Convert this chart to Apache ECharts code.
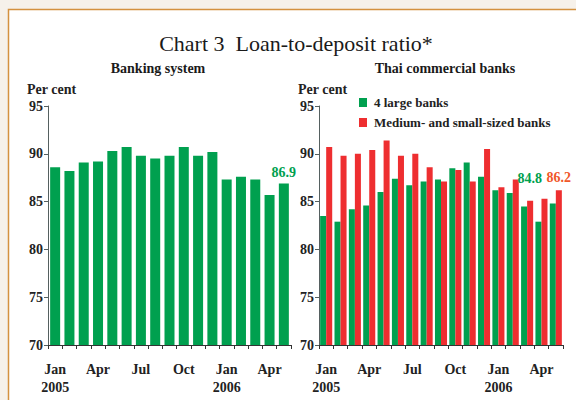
<!DOCTYPE html>
<html>
<head>
<meta charset="utf-8">
<script src="https://cdn.jsdelivr.net/npm/echarts@6/dist/echarts.min.js"></script>
<style>
html,body{margin:0;padding:0;background:#f6f1ea;}
#c{width:576px;height:400px;}
</style>
</head>
<body>
<div id="c"></div>
<script>
var months = ["Jan\n2005","Feb","Mar","Apr","May","Jun","Jul","Aug","Sep","Oct","Nov","Dec","Jan\n2006","Feb","Mar","Apr","May"];
var bankingSystem = [88.6, 88.2, 89.1, 89.2, 90.3, 90.7, 89.8, 89.5, 89.8, 90.7, 89.8, 90.2, 87.3, 87.6, 87.3, 85.7, 86.9];
var largeBanks = [83.5, 82.9, 84.2, 84.6, 86.0, 87.4, 86.7, 87.1, 87.3, 88.5, 89.1, 87.6, 86.2, 85.9, 84.5, 82.9, 84.8];
var mediumSmallBanks = [90.7, 89.8, 90.0, 90.4, 91.4, 89.8, 90.0, 88.6, 87.1, 88.3, 87.1, 90.5, 86.5, 87.3, 85.1, 85.3, 86.2];
var yTicks = {min: 70, max: 95, interval: 5};

var GREEN = '#00a04f', RED = '#ee2e30', LABEL_RED = '#f0572a';
var FONT = '"Liberation Serif", "Times New Roman", serif';

function lastLabelData(arr, labelOpt) {
  return arr.map(function (v, i) {
    if (i === arr.length - 1) return {value: v, label: labelOpt};
    return v;
  });
}

function xAxis(gi) {
  return {
    type: 'category', gridIndex: gi, data: months,
    boundaryGap: true,
    axisLine: {lineStyle: {color: '#333', width: 1}},
    axisTick: {show: true, interval: 0, length: 4, lineStyle: {color: '#333'}},
    axisLabel: {interval: 2, margin: 15, color: '#222', fontFamily: FONT, fontWeight: 'bold', fontSize: 14, lineHeight: 18},
    splitLine: {show: false}
  };
}
function yAxis(gi) {
  return {
    type: 'value', gridIndex: gi, min: yTicks.min, max: yTicks.max, interval: yTicks.interval,
    axisLine: {show: true, lineStyle: {color: '#556060', width: 1}},
    axisTick: {show: true, length: 4, lineStyle: {color: '#556060'}},
    axisLabel: {margin: 5, color: '#222', fontFamily: FONT, fontWeight: 'bold', fontSize: 14},
    splitLine: {show: false}
  };
}

var chart = echarts.init(document.getElementById('c'), null, {renderer: 'svg'});
chart.setOption({
  animation: false,
  backgroundColor: '#f6f1ea',
  graphic: [
    {type: 'rect', z: -10, shape: {x: 8.5, y: 9.5, width: 620, height: 420},
     style: {fill: '#ffffff', stroke: '#d4913f', lineWidth: 1.5}},
    {type: 'text', left: 27, top: 82, style: {text: 'Per cent', fill: '#222', font: 'bold 14px ' + FONT}},
    {type: 'text', left: 298, top: 82, style: {text: 'Per cent', fill: '#222', font: 'bold 14px ' + FONT}}
  ],
  title: [
    {text: 'Chart 3  Loan-to-deposit ratio*', left: 291, top: 27, textAlign: 'center',
     textStyle: {fontFamily: FONT, fontWeight: 'normal', fontSize: 22, color: '#1a1a1a'}},
    {text: 'Banking system', left: 153, top: 56, textAlign: 'center',
     textStyle: {fontFamily: FONT, fontWeight: 'bold', fontSize: 14, color: '#1a1a1a'}},
    {text: 'Thai commercial banks', left: 440, top: 56, textAlign: 'center',
     textStyle: {fontFamily: FONT, fontWeight: 'bold', fontSize: 14, color: '#1a1a1a'}}
  ],
  legend: {
    data: ['4 large banks', 'Medium- and small-sized banks'],
    orient: 'vertical', left: 359, top: 96, padding: 0,
    itemWidth: 8, itemHeight: 9, itemGap: 7, icon: 'rect',
    textStyle: {fontFamily: FONT, fontWeight: 'bold', fontSize: 13, color: '#222', padding: [0, 0, 0, 2]}
  },
  grid: [
    {left: 48, top: 106, width: 243, height: 239},
    {left: 319, top: 106, width: 244, height: 239}
  ],
  xAxis: [xAxis(0), xAxis(1)],
  yAxis: [yAxis(0), yAxis(1)],
  series: [
    {name: 'Banking system', type: 'bar', xAxisIndex: 0, yAxisIndex: 0,
     barCategoryGap: '30%', itemStyle: {color: GREEN},
     data: lastLabelData(bankingSystem, {show: true, position: 'top', distance: 4, color: GREEN,
       fontFamily: FONT, fontWeight: 'bold', fontSize: 14})},
    {name: '4 large banks', type: 'bar', xAxisIndex: 1, yAxisIndex: 1,
     barGap: '0%', barCategoryGap: '16%', itemStyle: {color: GREEN},
     data: lastLabelData(largeBanks, {show: true, position: 'top', distance: 4, offset: [-23, -14], color: GREEN,
       fontFamily: FONT, fontWeight: 'bold', fontSize: 14})},
    {name: 'Medium- and small-sized banks', type: 'bar', xAxisIndex: 1, yAxisIndex: 1,
     barGap: '0%', barCategoryGap: '16%', itemStyle: {color: RED},
     data: lastLabelData(mediumSmallBanks, {show: true, position: 'top', distance: 4, offset: [0, -2], color: LABEL_RED,
       fontFamily: FONT, fontWeight: 'bold', fontSize: 14})}
  ]
});
</script>
</body>
</html>
